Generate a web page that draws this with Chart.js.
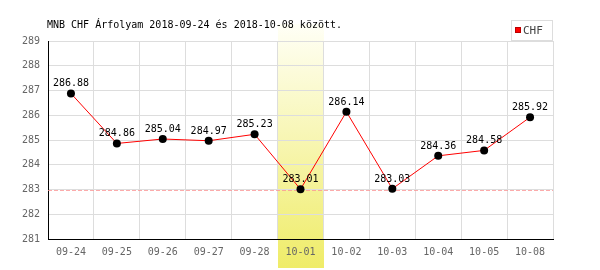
<!DOCTYPE html>
<html>
<head>
<meta charset="utf-8">
<script src="https://cdn.jsdelivr.net/npm/chart.js@4/dist/chart.umd.min.js"></script>
<style>
  html, body { margin: 0; padding: 0; background: #fff; }
  #wrap { width: 600px; height: 270px; }
</style>
</head>
<body>
<div id="wrap"><canvas id="chfChart" width="600" height="270"></canvas></div>
<script>
const titleText = "MNB CHF Árfolyam 2018-09-24 és 2018-10-08 között.";
const dateLabels = ["09-24", "09-25", "09-26", "09-27", "09-28", "10-01", "10-02", "10-03", "10-04", "10-05", "10-08"];
const chfValues = [286.88, 284.86, 285.04, 284.97, 285.23, 283.01, 286.14, 283.03, 284.36, 284.58, 285.92];
const yRange = [281, 289];
const highlightIndex = 5;   // 10-01
const refLineValue = 283;

const monoFont = "'DejaVu Sans Mono', 'Liberation Mono', monospace";

// yellow band behind the highlighted day, drawn first so grid and labels sit on top
const bandPlugin = {
  id: "band",
  beforeDraw(chart) {
    const { ctx, scales: { x } } = chart;
    const half = (x.getPixelForValue(1) - x.getPixelForValue(0)) / 2;
    const cx = x.getPixelForValue(highlightIndex);
    const top = 24, bottom = 268;
    const g = ctx.createLinearGradient(0, top, 0, bottom);
    g.addColorStop(0, "#fffff6");
    g.addColorStop(1, "#efec68");
    ctx.save();
    ctx.fillStyle = g;
    ctx.fillRect(Math.round(cx - half), top, Math.round(half * 2), bottom - top);
    ctx.restore();
  },
};

// title, dashed reference line, value labels and the little legend box
const decorPlugin = {
  id: "decor",
  beforeDatasetsDraw(chart) {
    const { ctx, chartArea: a, scales: { y } } = chart;
    const py = Math.round(y.getPixelForValue(refLineValue)) + 0.5;
    ctx.save();
    ctx.strokeStyle = "rgba(250,150,150,0.8)";
    ctx.lineWidth = 1;
    ctx.setLineDash([4, 2]);
    ctx.beginPath();
    ctx.moveTo(a.left, py);
    ctx.lineTo(a.right, py);
    ctx.stroke();
    ctx.restore();
  },
  afterDatasetsDraw(chart) {
    const { ctx } = chart;
    const meta = chart.getDatasetMeta(0);
    ctx.save();
    ctx.font = "10px " + monoFont;
    ctx.fillStyle = "#000";
    ctx.textAlign = "center";
    ctx.textBaseline = "alphabetic";
    meta.data.forEach((pt, i) => {
      ctx.fillText(chfValues[i].toFixed(2), pt.x, pt.y - 7);
    });

    ctx.textAlign = "left";
    ctx.fillText(titleText, 47, 28);

    // legend
    ctx.fillStyle = "#fff";
    ctx.fillRect(511, 20, 41, 20);
    ctx.strokeStyle = "#ddd";
    ctx.lineWidth = 1;
    ctx.strokeRect(511.5, 20.5, 41, 20);
    ctx.fillStyle = "#ff0000";
    ctx.fillRect(515, 27, 6, 6);
    ctx.strokeStyle = "#b00";
    ctx.strokeRect(515.5, 27.5, 5, 5);
    ctx.fillStyle = "#444";
    ctx.font = "11px " + monoFont;
    ctx.textBaseline = "middle";
    ctx.fillText("CHF", 523, 31);
    ctx.restore();
  },
};

new Chart(document.getElementById("chfChart"), {
  type: "line",
  data: {
    labels: dateLabels,
    datasets: [{
      label: "CHF",
      data: chfValues,
      borderColor: "#ff0000",
      borderWidth: 1,
      tension: 0,
      pointRadius: 4,
      pointBackgroundColor: "#000",
      pointBorderWidth: 0,
    }],
  },
  options: {
    responsive: false,
    animation: false,
    devicePixelRatio: 1,
    layout: { padding: { top: 41, right: 47, left: 0, bottom: 0 } },
    plugins: { legend: { display: false }, title: { display: false }, tooltip: { enabled: false } },
    scales: {
      x: {
        offset: true,
        grid: { offset: true, color: "#ddd", drawTicks: false },
        border: { color: "#000" },
        ticks: { color: "#666", font: { family: monoFont, size: 10 }, padding: 7, maxRotation: 0, autoSkip: false },
        afterFit: (s) => { s.height = 31; },
      },
      y: {
        min: yRange[0],
        max: yRange[1],
        grid: { color: "#ddd", drawTicks: false },
        border: { color: "#000" },
        ticks: { stepSize: 1, color: "#666", font: { family: monoFont, size: 10 }, padding: 8 },
        afterFit: (s) => { s.width = 48; },
      },
    },
  },
  plugins: [bandPlugin, decorPlugin],
});
</script>
</body>
</html>
